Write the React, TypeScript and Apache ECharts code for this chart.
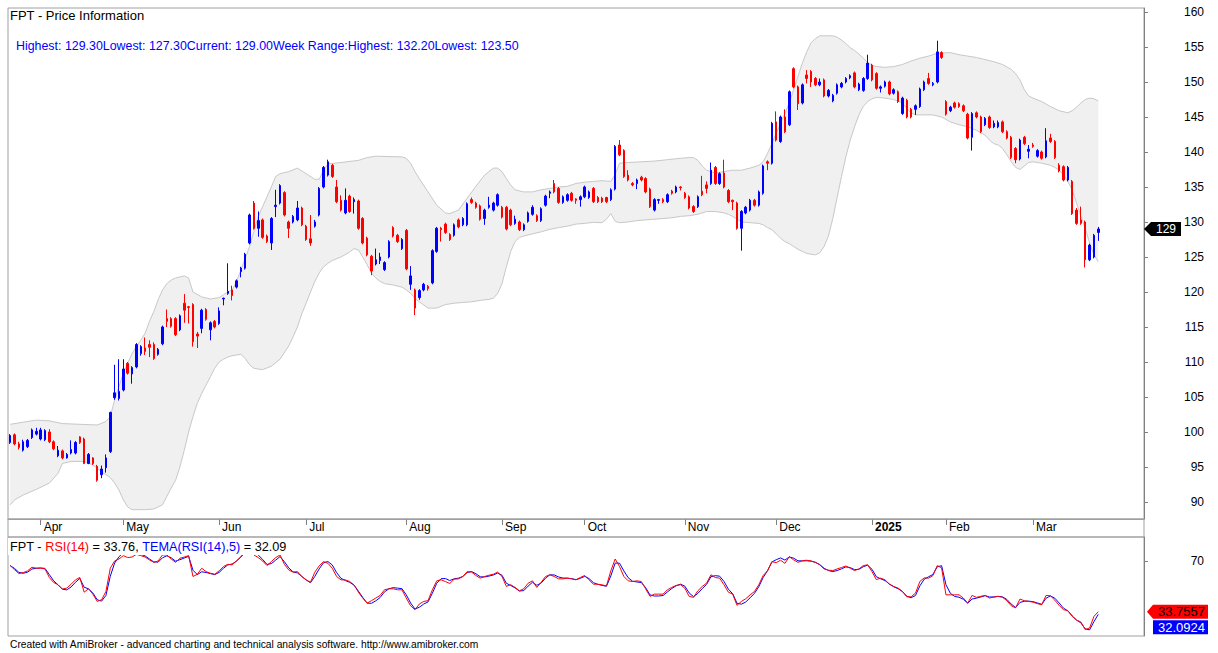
import React, { useEffect, useRef } from "react";
import * as echarts from "echarts";

const TICKER = "FPT";
const FONT = "'Liberation Sans', Arial, sans-serif";

const OPEN = [
  98.5, 99.6, 98.3, 97.4, 97.9, 99.2, 99.7, 99.0, 98.9, 100.0,
  98.6, 96.6, 97.3, 96.3, 97.0, 97.0, 99.3, 99.0, 95.5, 96.3,
  95.1, 93.9, 94.9, 97.2, 104.9, 104.8, 106.0, 109.8, 108.3, 109.3,
  111.2, 112.0, 112.5, 112.5, 111.1, 112.6, 116.2, 116.2, 116.2, 114.6,
  118.4, 117.9, 118.2, 114.0, 114.8, 117.5, 114.6, 115.8, 115.5, 119.0,
  119.8, 120.3, 120.7, 122.9, 123.4, 127.0, 132.7, 129.1, 130.3, 128.0,
  127.0, 132.2, 132.7, 134.2, 130.0, 130.0, 130.3, 132.0, 129.4, 127.6,
  129.4, 131.0, 135.0, 136.7, 138.1, 135.0, 133.1, 131.3, 133.7, 132.9,
  133.0, 130.5, 127.7, 125.1, 124.0, 124.5, 123.2, 125.0, 129.2, 128.1,
  126.2, 128.8, 121.1, 120.3, 119.2, 120.3, 120.8, 121.3, 125.8, 129.1,
  129.7, 128.2, 128.1, 130.3, 129.6, 129.6, 133.2, 132.7, 132.3, 130.5,
  132.1, 131.7, 132.4, 132.1, 132.1, 131.7, 129.8, 130.0, 128.9, 130.1,
  131.1, 130.9, 130.2, 132.4, 134.1, 135.5, 134.8, 132.8, 133.1, 134.1,
  133.3, 133.2, 133.6, 133.5, 134.8, 133.5, 133.4, 133.5, 133.2, 134.7,
  141.0, 140.2, 136.7, 135.5, 135.5, 136.4, 136.2, 134.7, 131.7, 133.1,
  133.2, 132.9, 134.4, 134.3, 135.0, 134.1, 133.6, 132.2, 132.2, 134.4,
  135.3, 135.5, 137.8, 135.5, 137.0, 134.5, 133.1, 132.7, 129.1, 131.3,
  131.7, 133.1, 132.4, 134.1, 138.6, 138.4, 144.3, 141.5, 145.0, 143.9,
  151.9, 149.3, 147.0, 151.0, 151.5, 150.5, 149.6, 150.3, 148.0, 147.3,
  148.4, 149.3, 150.0, 150.6, 151.3, 148.9, 148.8, 150.5, 152.4, 151.2,
  149.1, 149.4, 150.0, 148.4, 148.6, 145.5, 147.4, 146.1, 146.1, 146.5,
  148.9, 150.5, 149.6, 150.0, 154.2, 147.2, 145.9, 147.0, 146.9, 146.6,
  145.4, 142.1, 145.6, 145.0, 143.9, 145.0, 143.6, 143.6, 144.3, 142.9,
  142.1, 140.5, 139.0, 142.1, 140.1, 141.0, 139.4, 140.0, 139.3, 142.0,
  141.5, 138.1, 137.9, 136.0, 135.8, 131.7, 130.3, 130.0, 124.6, 125.0,
  128.5,
];

const CLOSE = [
  99.5, 98.3, 97.8, 98.6, 98.8, 100.3, 100.1, 100.3, 100.2, 98.6,
  97.6, 97.4, 96.3, 96.8, 97.5, 98.5, 98.5, 95.5, 96.8, 95.5,
  93.1, 94.7, 96.3, 102.8, 105.6, 105.8, 109.0, 108.4, 109.2, 112.5,
  112.2, 111.5, 112.1, 110.5, 111.8, 115.0, 115.8, 115.1, 113.9, 116.6,
  117.4, 117.8, 112.9, 113.7, 117.4, 116.1, 115.6, 115.0, 117.3, 119.1,
  120.1, 119.5, 121.6, 123.4, 125.4, 131.0, 129.1, 130.2, 127.8, 127.2,
  130.5, 132.4, 135.2, 131.0, 129.1, 130.8, 132.0, 129.6, 127.5, 127.0,
  130.0, 134.8, 137.8, 138.6, 136.5, 132.9, 131.7, 133.1, 131.5, 133.2,
  129.1, 127.0, 125.3, 123.0, 124.6, 125.0, 124.2, 127.2, 128.0, 127.2,
  127.5, 123.3, 122.3, 117.7, 120.2, 121.1, 120.5, 125.9, 129.1, 128.9,
  128.5, 127.5, 129.6, 129.3, 130.5, 132.6, 132.8, 132.1, 130.4, 131.7,
  132.4, 132.7, 133.9, 130.7, 129.0, 129.6, 130.4, 128.9, 129.6, 131.3,
  132.1, 130.2, 131.9, 133.7, 134.3, 134.3, 132.8, 133.6, 133.9, 133.1,
  133.1, 133.6, 135.0, 134.3, 132.9, 132.9, 132.9, 132.9, 134.6, 140.8,
  139.6, 136.5, 136.0, 135.3, 136.0, 136.0, 134.3, 132.2, 133.2, 133.2,
  132.9, 133.9, 134.1, 135.0, 134.9, 133.5, 132.0, 131.5, 133.6, 133.9,
  134.8, 137.4, 135.5, 136.9, 135.0, 132.9, 132.9, 129.1, 131.5, 132.1,
  133.1, 132.4, 134.3, 138.0, 138.4, 144.1, 141.7, 145.0, 142.9, 148.6,
  149.3, 146.9, 149.6, 150.5, 150.0, 149.6, 150.0, 148.0, 148.8, 148.1,
  149.6, 149.8, 150.5, 150.9, 149.3, 149.7, 150.5, 152.7, 150.3, 149.1,
  149.3, 150.0, 148.3, 148.9, 147.2, 147.7, 145.0, 145.0, 146.6, 149.0,
  150.0, 149.8, 149.8, 154.3, 153.5, 145.4, 146.4, 146.4, 146.5, 145.9,
  142.0, 145.5, 145.0, 142.9, 144.8, 143.5, 144.1, 144.2, 142.9, 142.0,
  139.2, 138.9, 141.7, 141.2, 140.4, 140.8, 140.2, 139.1, 141.6, 141.5,
  139.2, 137.3, 136.0, 137.8, 131.2, 129.8, 129.8, 124.6, 126.7, 128.1,
  129.0,
];

const HIGH = [
  99.7, 99.8, 98.6, 98.9, 99.0, 100.5, 100.6, 100.6, 100.4, 100.4,
  98.8, 98.0, 97.5, 97.0, 98.8, 98.7, 99.4, 99.2, 97.0, 96.4,
  95.3, 95.2, 96.8, 102.9, 109.6, 110.4, 110.4, 110.0, 109.4, 112.7,
  112.4, 113.5, 113.1, 112.8, 112.0, 115.2, 117.5, 116.4, 116.4, 116.8,
  119.7, 118.0, 118.4, 114.3, 117.6, 117.7, 115.8, 116.0, 117.8, 119.2,
  124.1, 120.9, 121.8, 123.6, 125.6, 131.2, 133.0, 131.5, 130.5, 128.2,
  130.7, 134.6, 135.4, 134.4, 130.2, 131.0, 133.0, 132.2, 129.6, 131.0,
  130.3, 135.0, 138.0, 138.9, 138.3, 136.0, 133.8, 134.8, 133.9, 133.5,
  133.2, 130.7, 127.9, 125.3, 126.2, 125.6, 124.4, 127.4, 129.4, 128.3,
  127.7, 129.0, 123.7, 120.5, 120.4, 121.3, 121.0, 126.1, 129.3, 129.3,
  129.9, 128.4, 129.8, 130.5, 130.7, 132.8, 133.5, 132.9, 132.5, 131.9,
  133.6, 132.9, 134.1, 132.3, 132.3, 131.9, 130.9, 130.2, 129.8, 131.5,
  132.4, 131.1, 132.1, 133.9, 134.5, 136.0, 135.0, 133.8, 134.1, 134.3,
  133.4, 133.8, 135.2, 134.5, 135.0, 133.7, 133.6, 133.6, 134.8, 141.0,
  141.7, 140.4, 137.4, 135.7, 136.2, 136.6, 136.4, 134.9, 133.4, 133.3,
  133.4, 134.1, 134.6, 135.2, 135.1, 134.3, 133.8, 132.4, 133.8, 136.6,
  135.8, 138.5, 138.0, 137.1, 138.9, 134.7, 133.2, 132.9, 131.7, 132.3,
  133.3, 133.3, 134.5, 138.2, 138.8, 144.3, 145.8, 145.2, 146.1, 148.8,
  152.1, 149.5, 149.8, 151.7, 151.7, 150.7, 150.5, 150.5, 149.0, 148.3,
  149.8, 150.0, 150.7, 151.1, 151.5, 149.9, 150.7, 153.9, 152.6, 151.4,
  149.5, 150.2, 150.2, 149.1, 148.8, 147.9, 147.6, 146.3, 146.8, 149.2,
  150.2, 151.3, 150.0, 155.9, 154.4, 147.4, 146.6, 147.2, 147.1, 146.8,
  145.6, 145.7, 145.8, 145.2, 145.0, 145.2, 144.5, 144.5, 144.5, 143.1,
  142.3, 140.7, 141.9, 142.3, 141.0, 141.3, 140.4, 140.2, 143.4, 142.6,
  141.7, 138.4, 138.1, 138.0, 136.0, 132.0, 132.2, 130.2, 126.9, 128.3,
  129.3,
];

const LOW = [
  98.3, 98.1, 97.5, 97.2, 97.7, 99.0, 99.5, 98.8, 98.7, 98.4,
  97.4, 96.4, 96.1, 96.2, 96.8, 96.8, 98.3, 95.4, 95.4, 95.3,
  92.9, 93.4, 94.2, 97.0, 104.6, 104.5, 105.8, 108.2, 106.9, 109.1,
  110.9, 111.0, 110.7, 110.3, 110.9, 112.4, 115.0, 114.9, 113.7, 114.4,
  115.6, 115.5, 112.2, 112.0, 114.1, 115.9, 113.1, 114.8, 115.3, 118.1,
  119.6, 118.8, 120.5, 122.1, 123.2, 126.8, 128.9, 127.9, 127.6, 127.0,
  126.0, 130.7, 132.5, 130.8, 127.7, 129.8, 130.1, 129.4, 127.3, 126.6,
  129.2, 130.8, 134.8, 136.5, 136.3, 132.7, 131.5, 131.1, 131.3, 131.2,
  128.9, 126.8, 125.1, 122.4, 123.8, 124.0, 123.0, 124.8, 127.8, 127.0,
  126.0, 123.1, 120.3, 116.7, 118.9, 120.1, 120.2, 121.1, 125.6, 127.2,
  128.3, 127.3, 127.9, 129.1, 129.4, 129.4, 132.6, 131.9, 130.2, 129.6,
  131.9, 131.5, 132.2, 130.5, 128.8, 129.4, 129.6, 128.7, 128.7, 129.9,
  130.9, 130.0, 130.0, 132.2, 133.4, 134.1, 132.6, 132.6, 132.9, 132.9,
  132.6, 132.2, 133.4, 133.3, 132.7, 132.7, 132.7, 132.7, 133.0, 134.5,
  139.4, 136.3, 135.8, 135.1, 134.7, 135.8, 134.1, 132.0, 131.5, 132.6,
  132.7, 132.7, 133.9, 134.1, 134.5, 133.3, 131.8, 131.3, 132.0, 133.7,
  134.1, 135.3, 135.3, 135.3, 134.8, 132.7, 131.7, 128.9, 125.9, 131.1,
  131.5, 132.2, 132.2, 133.9, 137.4, 138.2, 141.5, 141.3, 142.7, 143.7,
  149.1, 146.0, 146.8, 149.8, 149.3, 149.4, 149.4, 147.8, 147.8, 147.1,
  148.2, 149.1, 149.8, 150.4, 149.1, 148.7, 148.6, 150.3, 150.1, 148.9,
  148.5, 149.2, 148.1, 148.2, 147.0, 145.3, 144.8, 144.8, 145.3, 146.3,
  148.7, 149.6, 149.4, 149.8, 153.3, 145.2, 145.7, 146.2, 146.3, 145.7,
  141.8, 140.2, 144.8, 142.7, 143.7, 143.3, 143.4, 143.4, 142.7, 141.8,
  139.0, 138.4, 138.8, 141.0, 139.1, 140.6, 139.2, 138.9, 139.1, 141.3,
  139.0, 137.1, 135.8, 135.8, 131.0, 129.6, 129.6, 123.5, 124.4, 124.8,
  127.3,
];

// Bollinger band edges: [bar index, price]
const BB_UPPER: [number, number][] = [
  [0, 101.1], [3, 101.4], [6, 101.7], [9, 101.6], [12, 101.2], [16, 101.1], [20, 101.0], [22, 101.5],
  [23, 102.2], [24, 104.6], [25, 106.5], [26, 108.4], [27, 109.8], [28, 111.2], [29, 112.2], [30, 113.1],
  [31, 114.1], [32, 115.8], [33, 117.2], [34, 118.9], [35, 120.3], [36, 121.2], [37, 121.7], [38, 122.0],
  [40, 122.3], [41, 122.0], [42, 120.0], [44, 119.3], [46, 119.0], [48, 119.2], [49, 119.6], [50, 120.0],
  [51, 120.3], [52, 121.5], [53, 123.1], [54, 124.8], [55, 126.5], [57, 130.8], [59, 133.6], [60, 135.0],
  [61, 136.5], [62, 136.9], [64, 137.2], [66, 137.7], [68, 136.9], [70, 136.1], [71, 136.1], [72, 137.4],
  [73, 138.3], [76, 138.5], [80, 138.8], [82, 139.2], [84, 139.4], [90, 139.3], [91, 139.1], [92, 138.4],
  [93, 137.2], [94, 136.2], [96, 134.3], [98, 132.4], [100, 131.3], [101, 131.2], [103, 131.7], [105, 133.4],
  [107, 135.1], [109, 136.7], [111, 137.7], [112, 137.7], [113, 137.2], [114, 136.2], [115, 135.3], [116, 134.6],
  [118, 134.3], [120, 134.3], [122, 134.6], [124, 134.8], [126, 135.0], [128, 135.1], [130, 135.5], [132, 135.7],
  [134, 135.8], [136, 135.9], [138, 135.8], [139, 136.8], [140, 138.4], [142, 138.5], [145, 138.6], [148, 138.7],
  [151, 138.9], [154, 139.1], [156, 139.2], [157, 139.2], [158, 138.8], [159, 138.0], [160, 137.4], [162, 137.0],
  [164, 137.2], [166, 137.4], [168, 137.4], [170, 137.7], [172, 138.1], [173, 138.6], [174, 139.8], [175, 141.2],
  [176, 142.7], [177, 144.1], [178, 145.5], [179, 147.0], [180, 148.9], [181, 150.8], [182, 152.7], [183, 154.3],
  [184, 155.6], [185, 156.2], [186, 156.6], [189, 156.6], [190, 156.4], [191, 156.0], [192, 155.5], [193, 154.9],
  [194, 154.5], [195, 154.0], [196, 153.4], [197, 152.8], [198, 152.4], [199, 152.2], [201, 152.1], [203, 152.2],
  [205, 152.5], [207, 153.0], [209, 153.4], [211, 153.7], [213, 154.1], [216, 154.2], [218, 153.9], [220, 153.7],
  [222, 153.5], [224, 153.2], [226, 152.9], [228, 152.5], [230, 151.8], [231, 151.2], [232, 150.3], [233, 148.9],
  [234, 148.0], [235, 147.7], [237, 147.2], [239, 146.5], [241, 145.9], [243, 145.6], [244, 145.9], [245, 146.4],
  [246, 147.0], [247, 147.5], [248, 147.7], [249, 147.6], [250, 147.3],
];

const BB_LOWER: [number, number][] = [
  [0, 89.6], [1, 90.3], [3, 91.0], [6, 91.8], [9, 92.7], [11, 94.1], [12, 95.5], [14, 95.8],
  [17, 95.8], [19, 95.3], [21, 94.3], [22, 93.9], [23, 93.5], [24, 92.7], [25, 91.7], [26, 90.3],
  [27, 89.3], [28, 88.9], [31, 88.9], [33, 89.0], [35, 89.6], [36, 90.8], [37, 92.0], [38, 93.1],
  [39, 95.0], [40, 97.4], [41, 100.0], [42, 102.2], [43, 104.1], [44, 105.5], [45, 106.7], [46, 107.9],
  [47, 109.1], [48, 110.0], [49, 110.4], [50, 110.7], [51, 110.9], [53, 111.1], [54, 110.5], [55, 109.6],
  [56, 109.1], [58, 108.9], [60, 109.4], [62, 110.4], [64, 112.3], [65, 113.6], [66, 115.0], [67, 116.9],
  [68, 118.4], [69, 120.0], [70, 121.5], [71, 122.7], [72, 123.6], [73, 124.1], [74, 124.5], [76, 125.0],
  [78, 125.7], [79, 126.2], [80, 126.0], [81, 125.0], [82, 123.9], [83, 122.7], [84, 122.0], [85, 121.5],
  [86, 121.2], [88, 121.0], [90, 120.7], [91, 120.3], [92, 119.8], [93, 119.1], [94, 118.6], [96, 117.7],
  [98, 117.7], [100, 118.2], [102, 118.4], [104, 118.5], [106, 118.6], [108, 118.8], [110, 118.95], [111, 119.1],
  [112, 119.8], [113, 121.2], [114, 123.6], [115, 125.8], [116, 127.2], [117, 127.8], [118, 128.0], [120, 128.3],
  [122, 128.6], [124, 128.95], [126, 129.2], [128, 129.4], [130, 129.7], [132, 129.8], [134, 129.95], [136, 129.9],
  [137, 130.4], [138, 131.2], [139, 130.1], [140, 129.9], [142, 130.0], [144, 130.2], [146, 130.3], [148, 130.4],
  [150, 130.5], [152, 130.6], [154, 130.8], [156, 130.9], [158, 131.1], [160, 131.5], [162, 131.5], [164, 131.3],
  [165, 131.1], [166, 130.8], [167, 130.4], [168, 130.0], [170, 129.9], [172, 129.8], [173, 129.6], [174, 129.2],
  [175, 128.9], [176, 128.3], [177, 127.7], [178, 127.2], [179, 126.9], [180, 126.5], [181, 126.1], [182, 125.8],
  [183, 125.5], [185, 125.3], [186, 125.6], [187, 126.5], [188, 128.0], [189, 130.5], [190, 133.5], [191, 136.5],
  [192, 139.3], [193, 141.7], [194, 143.6], [195, 145.3], [196, 146.5], [197, 147.2], [198, 147.6], [199, 147.8],
  [201, 147.7], [203, 147.5], [205, 147.0], [206, 146.2], [207, 145.6], [208, 145.3], [212, 145.3], [214, 145.0],
  [216, 144.3], [218, 143.9], [220, 143.6], [222, 143.1], [224, 142.4], [225, 141.7], [226, 141.2], [227, 141.0],
  [228, 140.5], [229, 139.6], [230, 138.6], [231, 137.8], [232, 137.5], [233, 138.0], [234, 138.5], [235, 138.6],
  [237, 138.4], [239, 138.1], [240, 137.8], [241, 137.4], [242, 136.7], [243, 135.8], [244, 134.6], [245, 132.7],
  [246, 130.8], [247, 129.1], [248, 127.0], [249, 125.3], [250, 124.3],
];

// RSI(14)
const RSI14 = [
  66.7, 63.8, 61.0, 61.7, 62.9, 65.5, 64.8, 64.8, 64.3, 58.2,
  54.6, 53.0, 49.9, 50.6, 53.4, 56.5, 58.2, 47.7, 50.1, 46.3,
  41.1, 42.3, 48.2, 64.8, 70.0, 71.4, 73.8, 72.4, 72.8, 74.7,
  73.8, 72.8, 70.7, 69.0, 70.0, 74.3, 74.3, 71.4, 69.0, 71.9,
  72.8, 73.8, 58.9, 60.5, 64.8, 62.4, 61.2, 60.5, 62.9, 66.0,
  67.6, 67.2, 70.0, 73.1, 76.5, 79.5, 74.3, 72.4, 70.0, 66.7,
  69.5, 72.4, 74.3, 67.6, 63.6, 62.0, 62.4, 58.9, 56.5, 54.8,
  62.0, 66.5, 69.5, 68.3, 64.8, 58.9, 56.5, 56.5, 55.3, 52.9,
  47.7, 43.5, 39.9, 41.6, 43.5, 45.4, 49.4, 50.1, 50.1, 49.4,
  49.4, 43.5, 38.0, 35.2, 39.2, 41.1, 41.6, 49.4, 55.8, 56.5,
  55.3, 53.9, 57.0, 57.2, 58.9, 62.4, 62.0, 59.6, 57.7, 58.9,
  59.8, 60.5, 62.0, 58.9, 51.8, 53.0, 51.1, 48.7, 50.1, 54.1,
  55.8, 51.1, 54.8, 58.9, 60.1, 58.9, 57.2, 57.2, 57.7, 57.2,
  56.5, 58.2, 59.6, 56.5, 53.4, 53.4, 52.9, 52.2, 62.9, 71.4,
  66.0, 58.9, 55.8, 55.3, 55.8, 55.3, 50.1, 44.7, 46.3, 46.3,
  46.3, 49.4, 51.1, 52.5, 53.0, 50.6, 44.7, 44.0, 48.7, 51.8,
  54.1, 60.1, 58.2, 57.7, 53.0, 47.7, 46.3, 38.3, 41.1, 43.0,
  45.8, 48.2, 53.0, 59.6, 62.9, 69.5, 68.8, 70.5, 68.3, 73.0,
  70.8, 69.0, 70.2, 70.5, 70.0, 69.0, 67.2, 64.3, 63.4, 63.1,
  64.3, 65.3, 66.4, 64.8, 63.1, 64.3, 66.7, 67.2, 62.4, 56.7,
  57.7, 56.5, 53.4, 51.8, 50.6, 48.2, 44.4, 44.4, 47.0, 55.3,
  57.9, 57.7, 59.5, 66.7, 65.0, 45.8, 45.8, 45.8, 45.8, 43.5,
  39.9, 45.4, 44.0, 44.7, 45.4, 43.5, 44.2, 44.7, 44.0, 41.6,
  38.0, 36.5, 42.8, 41.6, 41.1, 40.6, 39.5, 38.7, 45.4, 45.1,
  42.0, 38.3, 35.2, 34.5, 30.4, 27.8, 26.4, 21.0, 22.1, 30.4,
  33.7557,
];
const TEMA_LAST = 32.0924;
const TEMA_PERIOD = 5;

const PRICE_TICKS = [90, 95, 100, 105, 110, 115, 120, 125, 130, 135, 140, 145, 150, 155, 160];
const RSI_TICKS = [70];
const MONTH_NAMES = ["Jan", "Feb", "Mar", "Apr", "May", "Jun", "Jul", "Aug", "Sep", "Oct", "Nov", "Dec"];
const FIRST_DAY = "2024-03-21";
const HOLIDAYS = [
  "2024-04-18", "2024-04-29", "2024-04-30", "2024-05-01", "2024-09-02", "2024-09-03",
  "2025-01-01", "2025-01-27", "2025-01-28", "2025-01-29", "2025-01-30", "2025-01-31",
];
const EMPTY_SLOTS = 10;

function tradingDays(start: string, count: number): string[] {
  const out: string[] = [];
  const d = new Date(start + "T00:00:00Z");
  while (out.length < count) {
    const dow = d.getUTCDay();
    const s = d.toISOString().slice(0, 10);
    if (dow !== 0 && dow !== 6 && HOLIDAYS.indexOf(s) < 0) out.push(s);
    d.setUTCDate(d.getUTCDate() + 1);
  }
  return out;
}

function ema(src: number[], n: number): number[] {
  const k = 2 / (n + 1);
  const out: number[] = [];
  let prev = src[0];
  src.forEach((v, i) => {
    prev = i === 0 ? v : prev + k * (v - prev);
    out.push(prev);
  });
  return out;
}

const DATES = tradingDays(FIRST_DAY, CLOSE.length);
const CATEGORIES = DATES.concat(Array(EMPTY_SLOTS).fill(""));

const isMonthStart = (i: number) =>
  i > 0 && i < DATES.length && DATES[i].slice(0, 7) !== DATES[i - 1].slice(0, 7);

export default function App() {
  const ref = useRef<HTMLDivElement>(null);

  useEffect(() => {
    document.body.style.margin = "0";
    document.body.style.overflow = "hidden";
    const chart = echarts.init(ref.current!, null, { renderer: "svg" });

    const n = CLOSE.length;
    const candles = OPEN.map((o, i) => [o, CLOSE[i], LOW[i], HIGH[i]]);
    const e1 = ema(RSI14, TEMA_PERIOD);
    const e2 = ema(e1, TEMA_PERIOD);
    const e3 = ema(e2, TEMA_PERIOD);
    const tema = e1.map((v, i) => +(3 * v - 3 * e2[i] + e3[i]).toFixed(3));

    const wkHigh = Math.max(...HIGH.slice(n - 5));
    const wkLow = Math.min(...LOW.slice(n - 5));
    const header =
      `Highest: ${HIGH[n - 1].toFixed(2)}Lowest: ${LOW[n - 1].toFixed(2)}` +
      `Current: ${CLOSE[n - 1].toFixed(2)}Week Range:Highest: ${wkHigh.toFixed(2)}Lowest: ${wkLow.toFixed(2)}`;

    const gridLeft = 8;
    const gridRight = 74;
    const axisX = 1218 - gridRight;
    const border = "#a0a0a0";

    chart.setOption({
      animation: false,
      backgroundColor: "#ffffff",
      textStyle: { fontFamily: FONT },
      grid: [
        { left: gridLeft, right: gridRight, top: 8, height: 511, show: true, borderColor: border, borderWidth: 1 },
        { left: gridLeft, right: gridRight, top: 537, height: 99, show: true, borderColor: border, borderWidth: 1 },
      ],
      xAxis: [
        {
          type: "category",
          gridIndex: 0,
          data: CATEGORIES,
          boundaryGap: true,
          axisLine: { show: true, lineStyle: { color: border } },
          axisTick: {
            show: true,
            alignWithLabel: true,
            interval: (i: number) => isMonthStart(i),
            length: 6,
            lineStyle: { color: "#808080" },
          },
          axisLabel: {
            interval: (i: number) => isMonthStart(i),
            formatter: (v: string) => {
              if (!v) return "";
              const m = +v.slice(5, 7);
              return m === 1 ? `{y|${v.slice(0, 4)}}` : MONTH_NAMES[m - 1];
            },
            align: "left",
            padding: [0, 0, 0, 3],
            margin: 2,
            color: "#000",
            fontSize: 12,
            fontFamily: FONT,
            rich: { y: { fontWeight: "bold", fontSize: 12, fontFamily: FONT, color: "#000" } },
          },
          splitLine: { show: false },
        },
        {
          type: "category",
          gridIndex: 1,
          data: CATEGORIES,
          boundaryGap: true,
          axisLine: { show: false },
          axisTick: { show: false },
          axisLabel: { show: false },
          splitLine: { show: false },
        },
      ],
      yAxis: [
        {
          type: "value",
          gridIndex: 0,
          position: "right",
          min: 87.571,
          max: 160.571,
          splitLine: { show: false },
          axisLine: { show: true, lineStyle: { color: "#808080" } },
          axisTick: { show: true, customValues: PRICE_TICKS, length: 4, lineStyle: { color: "#808080" } },
          axisLabel: {
            customValues: PRICE_TICKS,
            align: "right",
            margin: 60,
            color: "#000",
            fontSize: 12,
            fontFamily: FONT,
          },
        },
        {
          type: "value",
          gridIndex: 1,
          position: "right",
          min: 16.4,
          max: 87.1,
          splitLine: { show: false },
          axisLine: { show: true, lineStyle: { color: "#808080" } },
          axisTick: { show: true, customValues: RSI_TICKS, length: 4, lineStyle: { color: "#808080" } },
          axisLabel: {
            customValues: RSI_TICKS,
            align: "right",
            margin: 60,
            color: "#000",
            fontSize: 12,
            fontFamily: FONT,
          },
        },
      ],
      series: [
        {
          type: "custom",
          name: "BBands",
          xAxisIndex: 0,
          yAxisIndex: 0,
          silent: true,
          z: 1,
          data: [[0, BB_UPPER[0][1]]],
          renderItem: (_p: any, api: any) => {
            const up = BB_UPPER.map((p) => api.coord(p));
            const lo = BB_LOWER.map((p) => api.coord(p));
            return {
              type: "group",
              children: [
                { type: "polygon", shape: { points: up.concat(lo.slice().reverse()) }, style: { fill: "#f0f0f0", stroke: null } },
                { type: "polyline", shape: { points: up }, style: { stroke: "#c8c8c8", lineWidth: 1, fill: null } },
                { type: "polyline", shape: { points: lo }, style: { stroke: "#c8c8c8", lineWidth: 1, fill: null } },
              ],
            };
          },
        },
        {
          type: "candlestick",
          name: TICKER,
          xAxisIndex: 0,
          yAxisIndex: 0,
          data: candles,
          barWidth: 2,
          z: 3,
          itemStyle: {
            color: "#0000ff",
            color0: "#ff0000",
            borderColor: "#0000ff",
            borderColor0: "#ff0000",
            borderWidth: 1,
          },
        },
        {
          type: "line",
          name: "TEMA(RSI(14),5)",
          xAxisIndex: 1,
          yAxisIndex: 1,
          data: tema,
          symbol: "none",
          z: 2,
          lineStyle: { color: "#0000ff", width: 1 },
        },
        {
          type: "line",
          name: "RSI(14)",
          xAxisIndex: 1,
          yAxisIndex: 1,
          data: RSI14,
          symbol: "none",
          z: 3,
          lineStyle: { color: "#ff0000", width: 1 },
        },
      ],
    });

    const yPrice = chart.convertToPixel({ yAxisIndex: 0 } as any, CLOSE[n - 1]) as number;
    const yRsi = chart.convertToPixel({ yAxisIndex: 1 } as any, RSI14[n - 1]) as number;
    const fmt = (v: number) => String(+v.toFixed(4));

    const txt = (id: string, x: number, y: number, text: string, fill: string, size: number, extra: any = {}) => ({
      type: "text",
      id,
      x,
      y,
      z: 100,
      style: {
        text,
        fill,
        font: `${size}px ${FONT}`,
        textVerticalAlign: "middle",
        verticalAlign: "middle",
        ...extra,
      },
    });

    chart.setOption({
      graphic: {
        elements: [
          txt("title", 10, 15.5, `${TICKER} - Price Information`, "#000", 13),
          txt("info", 16, 46, header, "#0000ff", 12.4),
          {
            type: "rect",
            id: "strip",
            z: 50,
            shape: { x: gridLeft, y: 519, width: axisX - gridLeft, height: 18 },
            style: { fill: null, stroke: border, lineWidth: 1 },
          },
          {
            type: "text",
            id: "rsiTitle",
            x: 8,
            y: 538,
            z: 100,
            style: {
              text:
                `{k|${TICKER} - }{r|RSI(14)}{k| = ${RSI14[n - 1].toFixed(2)}, }` +
                `{b|TEMA(RSI(14),5)}{k| = ${TEMA_LAST.toFixed(2)}}`,
              font: `12.7px ${FONT}`,
              backgroundColor: "#ffffff",
              padding: [2, 4, 2, 2],
              rich: {
                k: { fill: "#000", font: `12.7px ${FONT}` },
                r: { fill: "#ff0000", font: `12.7px ${FONT}` },
                b: { fill: "#0000ff", font: `12.7px ${FONT}` },
              },
            },
          },
          txt("footer", 10, 644, "Created with AmiBroker - advanced charting and technical analysis software. http://www.amibroker.com", "#000", 10.25),
          {
            type: "polygon",
            id: "tagPrice",
            z: 100,
            shape: {
              points: [
                [axisX, yPrice],
                [axisX + 7, yPrice - 7],
                [axisX + 37, yPrice - 7],
                [axisX + 37, yPrice + 7],
                [axisX + 7, yPrice + 7],
              ],
            },
            style: { fill: "#000" },
          },
          txt("tagPriceText", axisX + 22, yPrice, fmt(CLOSE[n - 1]), "#fff", 12, { textAlign: "center", align: "center" }),
          {
            type: "polygon",
            id: "tagRsi",
            z: 100,
            shape: {
              points: [
                [axisX + 3, yRsi],
                [axisX + 9, yRsi - 7],
                [axisX + 64, yRsi - 7],
                [axisX + 64, yRsi + 7],
                [axisX + 9, yRsi + 7],
              ],
            },
            style: { fill: "#ff0000" },
          },
          txt("tagRsiText", axisX + 37.5, yRsi, fmt(RSI14[n - 1]), "#000", 13, { textAlign: "center", align: "center" }),
          {
            type: "rect",
            id: "tagTema",
            z: 100,
            shape: { x: axisX + 9, y: yRsi + 8.5, width: 55, height: 14 },
            style: { fill: "#0000ff" },
          },
          txt("tagTemaText", axisX + 37.5, yRsi + 15.5, fmt(TEMA_LAST), "#fff", 13, { textAlign: "center", align: "center" }),
        ],
      },
    });

    return () => chart.dispose();
  }, []);

  return <div ref={ref} style={{ width: 1218, height: 653 }} />;
}
